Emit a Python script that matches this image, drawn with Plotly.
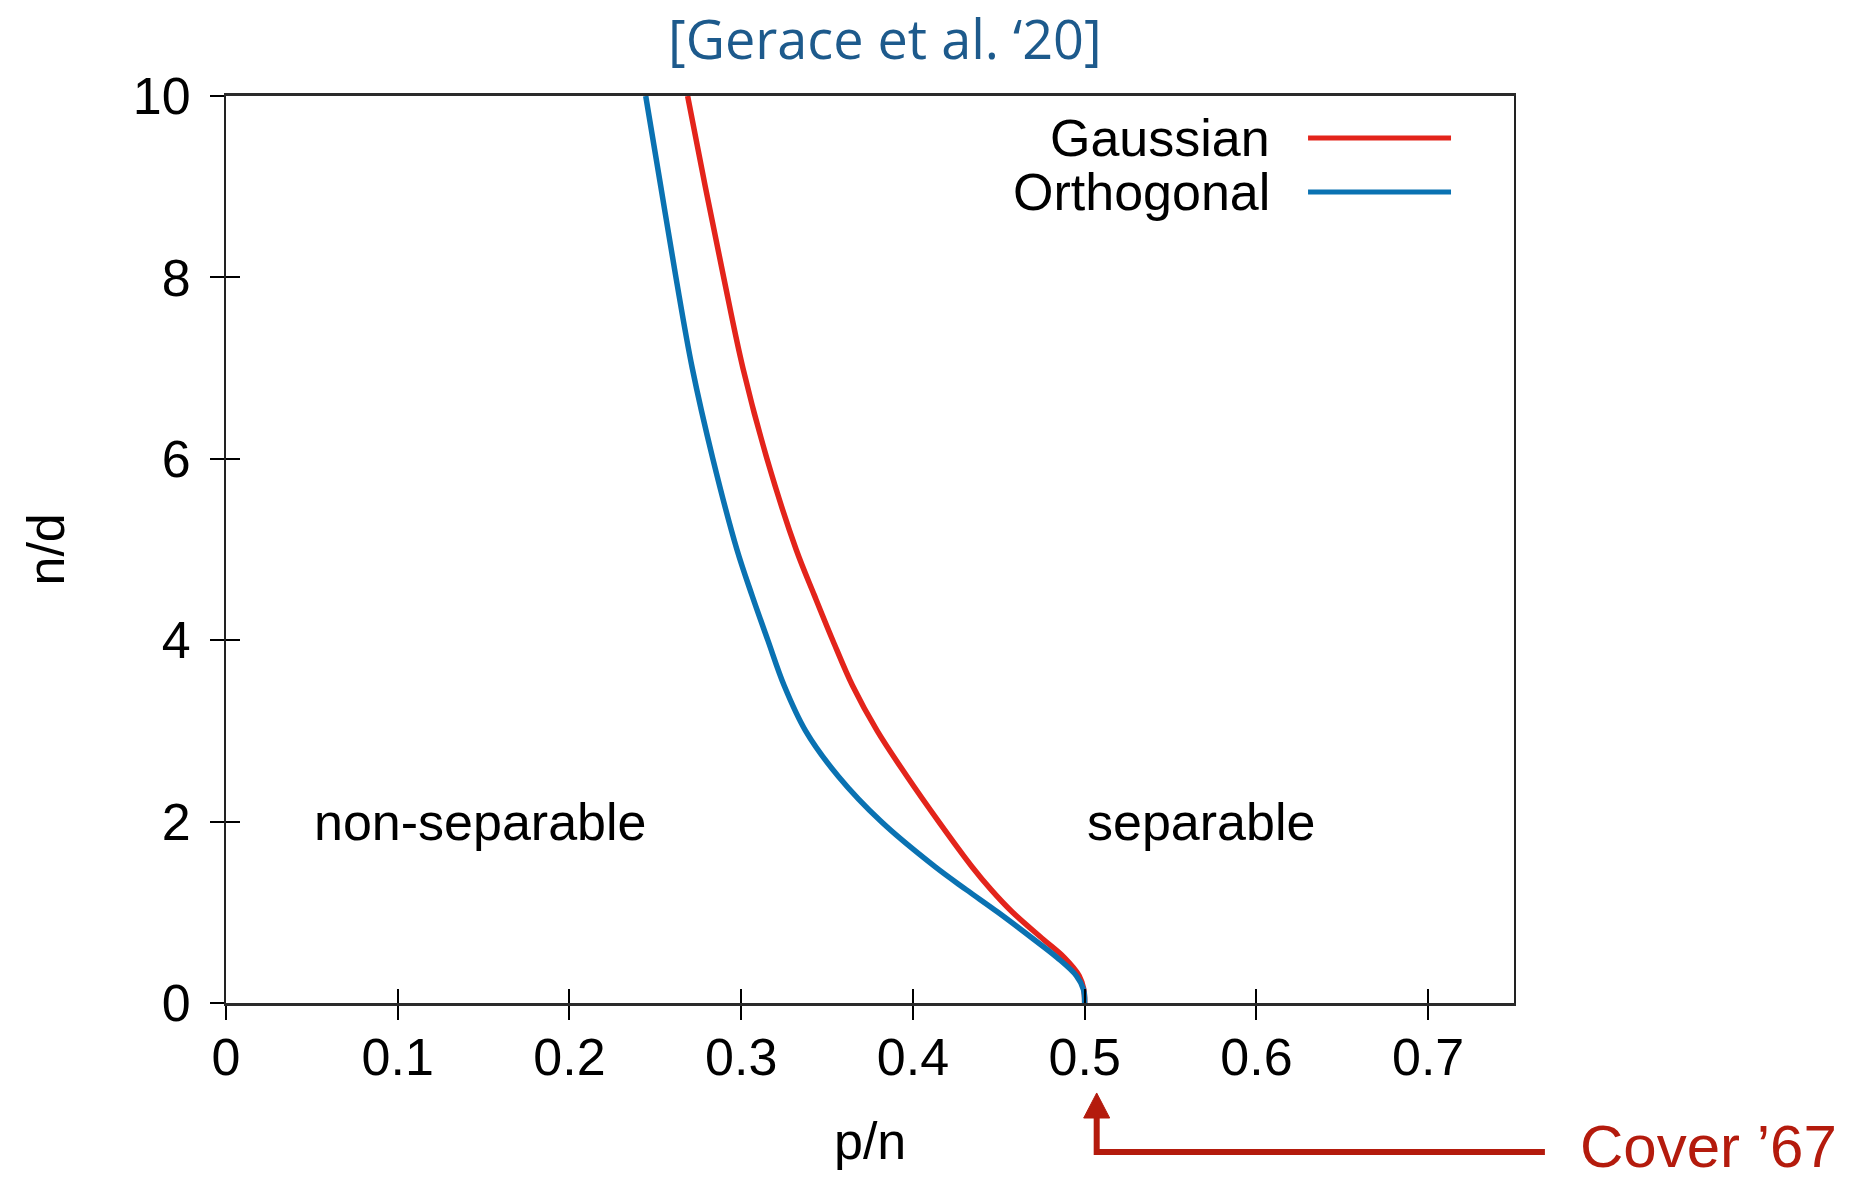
import plotly.graph_objects as go

# Phase boundary between the non-separable and separable regions
n_over_d = [10, 9, 8, 7, 6, 5, 4.5, 4, 3.5, 3, 2.5, 2, 1.5, 1.25, 1, 0.7, 0.5, 0.3, 0.15, 0]
gaussian_pn = [0.2688, 0.2791, 0.2898, 0.3010, 0.3150, 0.3320, 0.3425, 0.3533, 0.3648,
               0.3792, 0.3965, 0.4150, 0.4345, 0.4455, 0.4580, 0.4760, 0.4882, 0.4968,
               0.4995, 0.5]
orthogonal_pn = [0.2444, 0.2532, 0.2620, 0.2715, 0.2835, 0.2975, 0.3062, 0.3155, 0.3250,
                 0.3375, 0.3565, 0.3815, 0.4130, 0.4310, 0.4495, 0.4705, 0.4840, 0.4952,
                 0.4993, 0.5]

x_ticks = [0, 0.1, 0.2, 0.3, 0.4, 0.5, 0.6, 0.7]
x_tick_text = ["0", "0.1", "0.2", "0.3", "0.4", "0.5", "0.6", "0.7"]
y_ticks = [0, 2, 4, 6, 8, 10]

series_names = ["Gaussian", "Orthogonal"]
series_colors = ["#e3241b", "#0a72b2"]

FONT = "Liberation Sans, Arial, Helvetica, sans-serif"
FS = 52
COVER = "#b41b0d"

fig = go.Figure()
for name, xs, col in zip(series_names, [gaussian_pn, orthogonal_pn], series_colors):
    fig.add_trace(go.Scatter(x=xs, y=n_over_d, mode="lines", name=name,
                             line=dict(color=col, width=5.5, shape="spline", smoothing=1.0),
                             showlegend=False))

# invisible trace carrying the inward-pointing tick axes
fig.add_trace(go.Scatter(x=[0], y=[0], xaxis="x2", yaxis="y2", mode="markers",
                         marker=dict(opacity=0), showlegend=False, hoverinfo="skip"))

axis_common = dict(tickfont=dict(family=FONT, size=FS, color="black"),
                   tickcolor="black", tickwidth=2, ticklen=14, showgrid=False, zeroline=False)

fig.update_layout(
    width=1868, height=1182,
    margin=dict(l=226, r=354, t=96, b=179),
    paper_bgcolor="white", plot_bgcolor="white",
    xaxis=dict(range=[0, 0.75], tickvals=x_ticks, ticktext=x_tick_text, ticks="outside",
               showline=True, linecolor="#2a2a2a", linewidth=3, mirror=True,
               ticklabelstandoff=-7, **axis_common),
    yaxis=dict(range=[0, 10], tickvals=y_ticks, ticks="outside",
               showline=True, linecolor="#222", linewidth=2, mirror=True,
               ticklabelstandoff=9, **axis_common),
    xaxis2=dict(range=[0, 0.75], tickvals=x_ticks, ticks="inside", showticklabels=False,
                overlaying="x", anchor="y2", side="bottom", showline=False,
                tickcolor="black", tickwidth=2, ticklen=14, showgrid=False, zeroline=False),
    yaxis2=dict(range=[0, 10], tickvals=y_ticks, ticks="inside", showticklabels=False,
                overlaying="y", anchor="x2", side="left", showline=False,
                tickcolor="black", tickwidth=2, ticklen=14, showgrid=False, zeroline=False),
)


def label(text, x, y, size=FS, color="black", family=FONT, xref="paper", yref="paper",
          xanchor="center", **kw):
    return dict(text=text, x=x, y=y, xref=xref, yref=yref, xanchor=xanchor,
                yanchor="middle", showarrow=False,
                font=dict(family=family, size=size, color=color), **kw)


annotations = [
    label("[Gerace et al. ‘20]", 0.512, 1.064, size=54, color="#1d5a8c",
          family="Open Sans, sans-serif"),
    label("p/n", 0.5, -0.152),
    label("n/d", -0.1405, 0.5, textangle=-90),
    label("non-separable", 0.05, 2, xref="x", yref="y", xanchor="left"),
    label("separable", 0.5, 2, xref="x", yref="y", xanchor="left"),
    label("Cover ’67", 1.0497, -0.1585, size=60, color=COVER, xanchor="left"),
]

# key: label on the left, line sample on the right
key_rows = [0.9537, 0.8942]
for name, col, ky in zip(series_names, series_colors, key_rows):
    annotations.append(label(name, 0.8121, ky, xanchor="right"))
    fig.add_shape(type="line", xref="paper", yref="paper", x0=0.8401, x1=0.9511,
                  y0=ky, y1=ky, line=dict(color=col, width=5))

fig.update_layout(annotations=annotations)

# elbow arrow pointing at the 0.5 capacity threshold
ax = 0.676
fig.add_shape(type="path", xref="paper", yref="paper",
              path=f"M {ax},-0.1268 L {ax},-0.1643 L 1.024,-0.1643",
              line=dict(color=COVER, width=6))
fig.add_shape(type="path", xref="paper", yref="paper",
              path=f"M {ax},-0.0992 L {ax - 0.0101},-0.1268 L {ax + 0.0101},-0.1268 Z",
              line=dict(color=COVER, width=1), fillcolor=COVER)

fig.write_html("out.html")
